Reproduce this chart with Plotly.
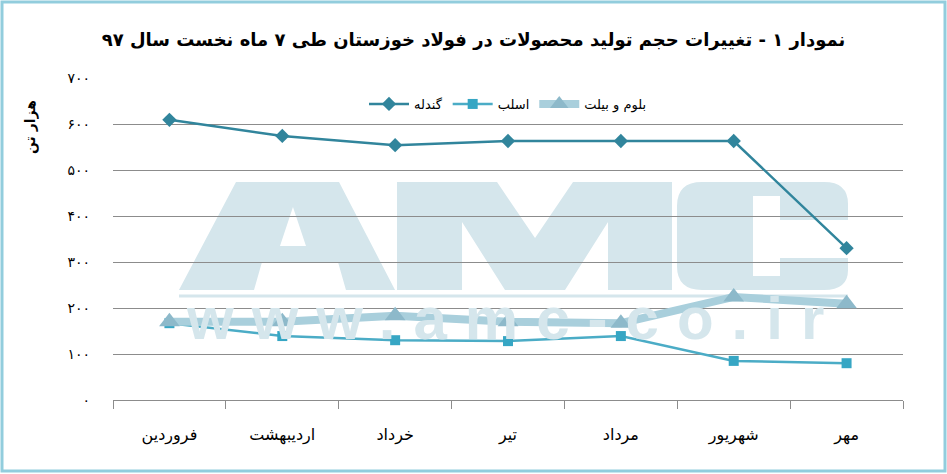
import plotly.graph_objects as go

# data (thousand tonnes)
months = ["فروردین", "اردیبهشت", "خرداد", "تیر", "مرداد", "شهریور", "مهر"]
pellet = [609, 574, 554, 563, 563, 563, 330]      # گندله
slab = [167, 139, 130, 128, 139, 85, 80]           # اسلب
bloom_billet = [170, 170, 183, 170, 167, 224, 209]  # بلوم و بیلت

y_ticks = [0, 100, 200, 300, 400, 500, 600, 700]
y_tick_text = ["۰", "۱۰۰", "۲۰۰", "۳۰۰", "۴۰۰", "۵۰۰", "۶۰۰", "۷۰۰"]

title_text = "نمودار ۱ - تغییرات حجم تولید محصولات در فولاد خوزستان طی ۷ ماه نخست سال ۹۷"
y_title = "هزار تن"

W, H = 947, 474
L, R, T, B = 113, 44, 78, 74
PW, PH = W - L - R, H - T - B
FONT = "DejaVu Sans"
WM = "rgb(213,230,236)"


def px(x, y):
    """pixel position -> paper coords"""
    return (x - L) / PW, (H - B - y) / PH


def path(points):
    parts = []
    for i, (x, y) in enumerate(points):
        a, b = px(x, y)
        parts.append(("M" if i == 0 else "L") + f"{a:.4f},{b:.4f}")
    return " ".join(parts) + " Z"


fig = go.Figure()
fig.add_trace(go.Scatter(
    x=months, y=pellet, name="گندله", mode="lines+markers",
    line=dict(color="#31859C", width=2.5),
    marker=dict(symbol="diamond", size=11, color="#31859C"),
))
fig.add_trace(go.Scatter(
    x=months, y=slab, name="اسلب", mode="lines+markers",
    line=dict(color="#4BACC6", width=2.5),
    marker=dict(symbol="square", size=10, color="#36A6C4"),
))
fig.add_trace(go.Scatter(
    x=months, y=bloom_billet, name="بلوم و بیلت", mode="lines+markers",
    line=dict(color="#A9CFDC", width=8),
    marker=dict(symbol="triangle-up", size=18, color="#8DB9CA"),
))

# watermark AMC drawn as filled paths
shapes = []
letter_A = path([(179, 290), (236, 182), (339, 182), (395, 290), (346, 290),
                 (338, 262), (262, 262), (254, 290)])
hole_A = path([(280, 246), (306, 246), (293, 207)])
letter_M = path([(397, 290), (397, 182), (497, 182), (535, 238), (573, 182),
                 (672, 182), (672, 290), (608, 290), (608, 222), (565, 290),
                 (505, 290), (462, 222), (462, 290)])
letter_C = ("M{} L{} Q{} {} L{} L{} L{} L{} L{} L{} L{} L{} L{} Q{} {} L{} Q{} {} L{} Q{} {} Z").format(
    *[f"{px(x, y)[0]:.4f},{px(x, y)[1]:.4f}" for x, y in [
        (702, 182), (824, 182), (848, 182), (848, 204), (848, 220), (780, 220),
        (780, 196), (753, 196), (753, 276), (780, 276), (780, 258), (848, 258),
        (848, 270), (848, 290), (824, 290), (702, 290), (677, 290), (677, 266),
        (677, 206), (677, 182), (702, 182)]])
for p in [letter_A + " " + hole_A, letter_M, letter_C]:
    shapes.append(dict(type="path", path=p, xref="paper", yref="paper",
                       fillcolor=WM, line=dict(width=0), layer="below"))
x0, y0 = px(179, 296)
x1, _ = px(848, 296)
shapes.append(dict(type="line", xref="paper", yref="paper", x0=x0, x1=x1, y0=y0, y1=y0,
                   line=dict(color=WM, width=3), layer="below"))

# frame round the whole picture
bx0, by0 = px(2, 471)
bx1, by1 = px(945, 2)
shapes.append(dict(type="rect", xref="paper", yref="paper", x0=bx0, y0=by0, x1=bx1, y1=by1,
                   line=dict(color="rgb(146,205,221)", width=3), layer="above"))

annotations = []
sx, sy = px(514, 318)
annotations.append(dict(text='<b><span style="letter-spacing:18px">www.amc-co.ir</span></b>',
                        x=sx, y=sy, xref="paper", yref="paper",
                        showarrow=False, xanchor="center", yanchor="middle",
                        font=dict(family="Liberation Sans", size=60, color=WM)))

tx, ty = px(30, 127)
annotations.append(dict(text=f"<b>{y_title}</b>", x=tx, y=ty, xref="paper", yref="paper",
                        showarrow=False, textangle=-90, xanchor="center", yanchor="middle",
                        font=dict(family=FONT, size=14, color="black")))

fig.update_layout(
    width=W, height=H,
    margin=dict(l=L, r=R, t=T, b=B),
    paper_bgcolor="white",
    plot_bgcolor="rgba(0,0,0,0)",
    font=dict(family=FONT, size=13, color="black"),
    title=dict(text=f"<b>{title_text}</b>", x=0.5, xanchor="center",
               y=1 - 40 / H, yanchor="middle",
               font=dict(family=FONT, size=18, color="black")),
    showlegend=True,
    legend=dict(orientation="h", x=0.5, xanchor="center", y=px(0, 104)[1], yanchor="middle",
                font=dict(size=13), bgcolor="rgba(0,0,0,0)", itemwidth=40),
    xaxis=dict(type="category", range=[-0.5, 6.5], showgrid=False, showline=True,
               linecolor="#8c8c8c", linewidth=1, ticks="outside", tickson="boundaries",
               ticklen=8, tickcolor="#8c8c8c", tickfont=dict(size=16), ticklabelstandoff=20),
    yaxis=dict(range=[0, 700], tickvals=y_ticks, ticktext=y_tick_text, showgrid=True,
               gridcolor="#8c8c8c", gridwidth=1, zeroline=False, showline=False,
               tickfont=dict(size=14), ticklabelstandoff=22, fixedrange=True),
    shapes=shapes,
    annotations=annotations,
)

fig.write_html("out.html", config={"displayModeBar": False},
               post_script="document.body.style.margin='0';")
